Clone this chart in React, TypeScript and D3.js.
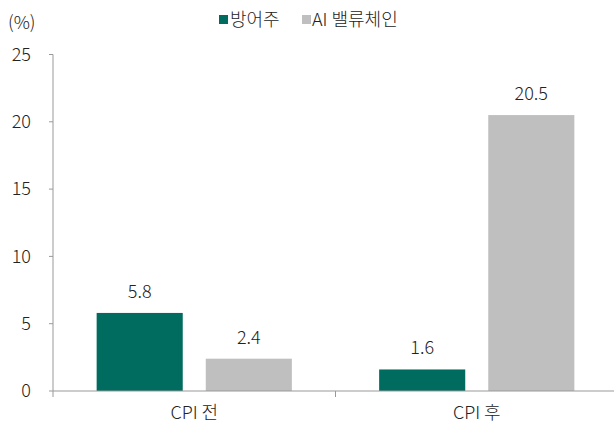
import * as d3 from "d3"
import React from "react"

const categories = ["CPI 전", "CPI 후"]
const seriesNames = ["방어주", "AI 밸류체인"]
const defensive = [5.8, 1.6]
const aiChain = [2.4, 20.5]
const yTicks = [0, 5, 10, 15, 20, 25]

const colors = ["#006b5f", "#bfbfbf"]
const W = 614
const H = 428
const margin = { left: 53, right: -4, top: 54.5, bottom: 37 }
const font = "'Noto Sans CJK KR', 'Noto Sans', sans-serif"

export default function App() {
  const x = d3.scaleBand().domain(categories).range([margin.left, W - margin.right]).paddingInner(0).paddingOuter(0)
  const y = d3.scaleLinear().domain([0, 25]).range([H - margin.bottom, margin.top])
  const x1 = d3.scaleBand().domain(seriesNames).range([0, x.bandwidth()]).paddingInner(0.211).paddingOuter(0.4)
  const series = [defensive, aiChain]
  const y0 = y(0)

  return (
    <svg width={W} height={H} style={{ position: "absolute", left: 0, top: 0, fontFamily: font, fontWeight: 300 }}>
      <rect width={W} height={H} fill="#fff" />
      <text x={8} y={29} fontSize={18} fill="#222">(%)</text>
      {/* legend */}
      <g>
        <rect x={219} y={15} width={9} height={9} fill={colors[0]} />
        <text x={230} y={26} fontSize={18} fill="#222">{seriesNames[0]}</text>
        <rect x={302} y={15} width={9} height={9} fill={colors[1]} />
        <text x={312} y={26} fontSize={18} fill="#222">{seriesNames[1]}</text>
      </g>
      {/* y axis */}
      <line x1={margin.left} x2={margin.left} y1={y(25)} y2={y0 + 6} stroke="#999" />
      {yTicks.map(t => (
        <g key={t}>
          <line x1={margin.left - 4} x2={margin.left} y1={y(t)} y2={y(t)} stroke="#999" />
          <text x={31} y={y(t)} dy="0.35em" textAnchor="end" fontSize={18} fill="#222">{t}</text>
        </g>
      ))}
      {/* bars */}
      {categories.map((c, i) => (
        <g key={c} transform={`translate(${x(c)},0)`}>
          {series.map((s, j) => (
            <g key={j}>
              <rect x={x1(seriesNames[j])} y={y(s[i])} width={x1.bandwidth()} height={y0 - y(s[i])} fill={colors[j]} />
              <text x={(x1(seriesNames[j]) as number) + x1.bandwidth() / 2} y={y(s[i]) - 15} textAnchor="middle" fontSize={18} fill="#222">
                {s[i].toFixed(1)}
              </text>
            </g>
          ))}
        </g>
      ))}
      {/* x axis */}
      <line x1={margin.left} x2={W} y1={y0} y2={y0} stroke="#999" />
      {categories.slice(1).map(c => (
        <line key={c} x1={x(c)} x2={x(c)} y1={y0} y2={y0 + 6} stroke="#999" />
      ))}
      {categories.map(c => (
        <text key={c} x={(x(c) as number) + x.bandwidth() / 2} y={419} textAnchor="middle" fontSize={18} fill="#222">{c}</text>
      ))}
    </svg>
  )
}
